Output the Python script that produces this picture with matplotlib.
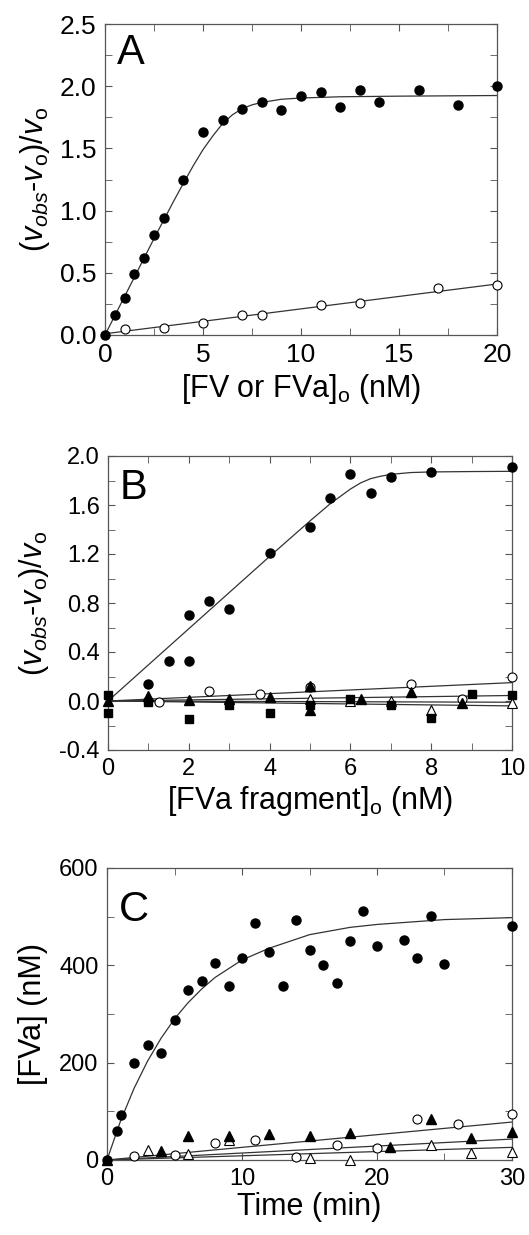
import numpy as np
import matplotlib
matplotlib.use("Agg")
import matplotlib.pyplot as plt
from matplotlib.ticker import MultipleLocator, FormatStrFormatter
from matplotlib.lines import Line2D

plt.rcParams['font.family'] = ['Liberation Sans', 'DejaVu Sans']
plt.rcParams['mathtext.fontset'] = 'custom'
plt.rcParams['mathtext.rm'] = 'Liberation Sans'
plt.rcParams['mathtext.it'] = 'Liberation Sans:italic'

# ---- Panel A data ----
a_fv_x = [0, 0.5, 1, 1.5, 2, 2.5, 3, 4, 5, 6, 7, 8, 9, 10, 11, 12, 13, 14, 16, 18, 20]
a_fv_y = [0, 0.16, 0.30, 0.49, 0.62, 0.80, 0.94, 1.25, 1.63, 1.73, 1.82, 1.87, 1.81,
          1.92, 1.95, 1.83, 1.97, 1.87, 1.97, 1.85, 2.00]
a_open_x = [1, 3, 5, 7, 8, 11, 13, 17, 20]
a_open_y = [0.05, 0.06, 0.10, 0.16, 0.16, 0.24, 0.26, 0.38, 0.40]
a_fit_x = [0, 0.5, 1, 1.5, 2, 2.5, 3, 3.5, 4, 4.5, 5, 5.5, 6, 6.5, 7, 7.5, 8, 9, 10, 12, 15, 20]
a_fit_y = [0, 0.155, 0.31, 0.465, 0.62, 0.775, 0.925, 1.075, 1.22, 1.36, 1.49, 1.60,
           1.70, 1.77, 1.82, 1.85, 1.87, 1.895, 1.905, 1.915, 1.92, 1.925]
a_line_x = [0, 20]
a_line_y = [0.01, 0.41]

# ---- Panel B data ----
b_circ_x = [1, 1.5, 2, 2, 2.5, 3, 4, 5, 5.5, 6, 6.5, 7, 8, 10]
b_circ_y = [0.14, 0.33, 0.70, 0.33, 0.82, 0.75, 1.21, 1.42, 1.66, 1.85, 1.70, 1.83, 1.87, 1.91]
b_fit_x = [0, 1, 2, 3, 4, 5, 5.5, 6, 6.25, 6.5, 6.75, 7, 7.5, 8, 9, 10]
b_fit_y = [0, 0.295, 0.59, 0.885, 1.18, 1.47, 1.61, 1.73, 1.78, 1.815, 1.835, 1.85,
           1.865, 1.87, 1.873, 1.875]
b_ocirc_x = [1.25, 2.5, 3.75, 5, 7.5, 8.75, 10]
b_ocirc_y = [-0.005, 0.085, 0.057, 0.115, 0.14, 0.016, 0.20]
b_tri_x = [0, 1, 2, 3, 4, 5, 5, 6.25, 7.5, 8.75]
b_tri_y = [0.0, 0.04, 0.01, 0.015, 0.03, 0.12, -0.07, 0.016, 0.076, -0.02]
b_otri_x = [5, 6, 7, 8, 10]
b_otri_y = [0.02, 0.0, 0.0, -0.07, -0.02]
b_sq_x = [0, 0, 1, 2, 3, 4, 5, 6, 7, 8, 9, 10]
b_sq_y = [0.05, -0.10, -0.01, -0.15, -0.03, -0.10, -0.03, 0.016, -0.03, -0.14, 0.057, 0.05]
b_lines_end = [0.15, 0.045, -0.01, -0.04]

# ---- Panel C data ----
c_circ_x = [0, 0.75, 1, 2, 3, 4, 5, 6, 7, 8, 9, 10, 11, 12, 13, 14, 15, 16, 17, 18,
            19, 20, 22, 23, 24, 25, 30]
c_circ_y = [0, 60, 93, 199, 237, 219, 287, 350, 367, 405, 358, 415, 486, 428, 357,
            494, 431, 400, 364, 449, 512, 439, 452, 416, 502, 403, 480]
c_fit_x = [0, 1, 2, 3, 4, 5, 6, 7, 8, 10, 12, 15, 18, 20, 25, 30]
c_fit_y = [0, 80, 147, 203, 250, 290, 323, 351, 375, 411, 435, 463, 478, 484, 494, 498]
c_ocirc_x = [2, 5, 8, 11, 14, 17, 20, 23, 26, 30]
c_ocirc_y = [8, 10, 35, 41, 6, 31, 24, 84, 74, 95]
c_tri_x = [0, 4, 6, 9, 12, 15, 18, 21, 24, 27, 30]
c_tri_y = [0, 18, 49, 49, 53, 49, 55, 27, 84, 45, 58]
c_otri_x = [3, 6, 9, 15, 18, 24, 27, 30]
c_otri_y = [21, 12, 41, 5, 0, 31, 15, 16]
c_lines_end = [78, 43, 26]

W, H = 529, 1235
fig = plt.figure(figsize=(W / 100, H / 100), dpi=100)

LABEL_FS = 22
YLAB = r'($v_{obs}$-$v_\mathrm{o}$)/$v_\mathrm{o}$'


def make_axes(left, right, top, bottom):
    return fig.add_axes([left / W, 1 - bottom / H, (right - left) / W, (bottom - top) / H])


def style(ax, tick_fs):
    for s in ax.spines.values():
        s.set_color('#555555')
        s.set_linewidth(0.9)
    ax.tick_params(which='both', direction='in', top=True, right=True,
                   color='#555555', labelsize=tick_fs, pad=6, length=5)
    for m in ax.get_children():
        if isinstance(m, Line2D):
            m.set_clip_on(False)


lc = '#333333'
lw = 0.9
ms = 6.5
fc_kw = dict(color='black', linestyle='none', markersize=ms)
oc_kw = dict(linestyle='none', markersize=ms, markerfacecolor='white',
             markeredgecolor='black', markeredgewidth=0.8, color='black')

# Panel A
ax = make_axes(105, 497, 24, 335)
ax.plot(a_fit_x, a_fit_y, color=lc, lw=lw, zorder=2)
ax.plot(a_line_x, a_line_y, color=lc, lw=lw, zorder=2)
ax.plot(a_open_x, a_open_y, marker='o', zorder=3, **oc_kw)
ax.plot(a_fv_x, a_fv_y, marker='o', zorder=4, **fc_kw)
ax.set_xlim(0, 20)
ax.set_ylim(0, 2.5)
ax.xaxis.set_major_locator(MultipleLocator(5))
ax.xaxis.set_minor_locator(MultipleLocator(2.5))
ax.yaxis.set_major_locator(MultipleLocator(0.5))
ax.yaxis.set_minor_locator(MultipleLocator(0.25))
ax.yaxis.set_major_formatter(FormatStrFormatter('%.1f'))
style(ax, 19)
ax.set_xlabel(r'[FV or FVa]$_\mathrm{o}$ (nM)', fontsize=LABEL_FS, labelpad=3)
ax.set_ylabel(YLAB, fontsize=LABEL_FS, labelpad=6)
ax.text(0.03, 0.97, 'A', transform=ax.transAxes, fontsize=30, va='top', ha='left')

# Panel B
ax = make_axes(108, 512, 456, 750)
ax.plot(b_fit_x, b_fit_y, color=lc, lw=lw, zorder=2)
for yend in b_lines_end:
    ax.plot([0, 10], [0, yend], color=lc, lw=lw, zorder=2)
ax.plot(b_ocirc_x, b_ocirc_y, marker='o', zorder=3, **oc_kw)
ax.plot(b_otri_x, b_otri_y, marker='^', zorder=3, **oc_kw)
ax.plot(b_sq_x, b_sq_y, marker='s', zorder=4, color='black', linestyle='none', markersize=5.8)
ax.plot(b_tri_x, b_tri_y, marker='^', zorder=4, color='black', linestyle='none', markersize=6.5)
ax.plot(b_circ_x, b_circ_y, marker='o', zorder=4, **fc_kw)
ax.set_xlim(0, 10)
ax.set_ylim(-0.4, 2.0)
ax.xaxis.set_major_locator(MultipleLocator(2))
ax.xaxis.set_minor_locator(MultipleLocator(1))
ax.yaxis.set_major_locator(MultipleLocator(0.4))
ax.yaxis.set_minor_locator(MultipleLocator(0.2))
ax.yaxis.set_major_formatter(FormatStrFormatter('%.1f'))
style(ax, 17)
ax.set_xlabel(r'[FVa fragment]$_\mathrm{o}$ (nM)', fontsize=LABEL_FS, labelpad=3)
ax.set_ylabel(YLAB, fontsize=LABEL_FS, labelpad=6)
ax.text(0.03, 0.96, 'B', transform=ax.transAxes, fontsize=30, va='top', ha='left')

# Panel C
ax = make_axes(107, 512, 868, 1160)
ax.plot(c_fit_x, c_fit_y, color=lc, lw=lw, zorder=2)
for yend in c_lines_end:
    ax.plot([0, 30], [0, yend], color=lc, lw=lw, zorder=2)
ax.plot(c_ocirc_x, c_ocirc_y, marker='o', zorder=3, **oc_kw)
ax.plot(c_otri_x, c_otri_y, marker='^', zorder=3, **oc_kw)
ax.plot(c_tri_x, c_tri_y, marker='^', zorder=4, color='black', linestyle='none', markersize=6.5)
ax.plot(c_circ_x, c_circ_y, marker='o', zorder=4, **fc_kw)
ax.set_xlim(0, 30)
ax.set_ylim(0, 600)
ax.xaxis.set_major_locator(MultipleLocator(10))
ax.xaxis.set_minor_locator(MultipleLocator(5))
ax.yaxis.set_major_locator(MultipleLocator(200))
ax.yaxis.set_minor_locator(MultipleLocator(100))
style(ax, 17)
ax.set_xlabel('Time (min)', fontsize=LABEL_FS, labelpad=1)
ax.set_ylabel('[FVa] (nM)', fontsize=LABEL_FS, labelpad=8)
ax.text(0.03, 0.925, 'C', transform=ax.transAxes, fontsize=30, va='top', ha='left')

fig.savefig('out.png', dpi=100)
